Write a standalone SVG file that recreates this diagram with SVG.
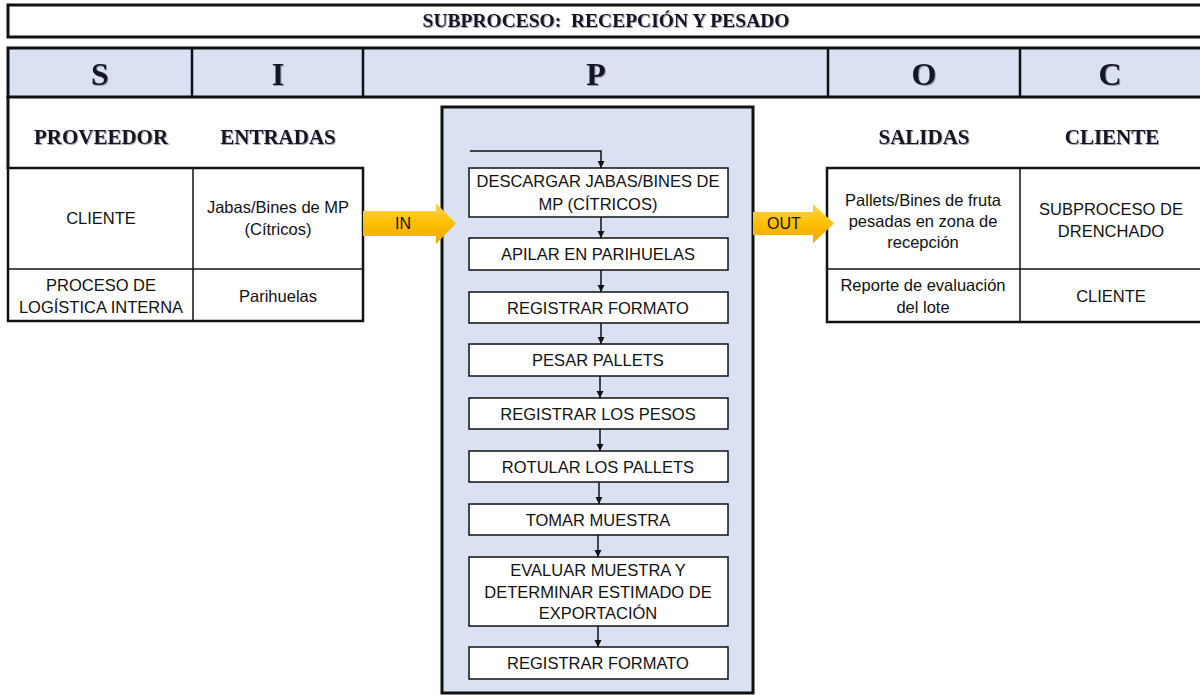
<svg xmlns="http://www.w3.org/2000/svg" width="1200" height="695" viewBox="0 0 1200 695">
  <defs>
    <style>
      .frame { fill: #ffffff; stroke: #111111; stroke-width: 3; }
      .band { fill: #D9E1F2; stroke: #111111; stroke-width: 3; }
      .cell { fill: #ffffff; stroke: #111111; stroke-width: 2.5; }
      .rule { stroke: #111111; stroke-width: 1.5; fill: none; }
      .thick { stroke: #111111; stroke-width: 2.5; fill: none; }
      .step { fill: #ffffff; stroke: #111111; stroke-width: 1.5; }
      .title { font-family: "Liberation Serif", "Times New Roman", serif; font-weight: bold; font-size: 19.5px; fill: #141420; text-anchor: middle; }
      .letter { font-family: "Liberation Serif", "Times New Roman", serif; font-weight: bold; font-size: 32px; fill: #141420; text-anchor: middle; }
      .head { font-family: "Liberation Serif", "Times New Roman", serif; font-weight: bold; font-size: 21px; fill: #141420; text-anchor: middle; }
      .txt { font-family: "Liberation Sans", Arial, sans-serif; font-size: 16.5px; fill: #111111; text-anchor: middle; }
      .tag { font-family: "Liberation Sans", Arial, sans-serif; font-size: 16px; fill: #111111; text-anchor: middle; }
      .flow { stroke: #111111; stroke-width: 1.5; fill: none; marker-end: url(#tip); }
      .fat { fill: url(#gold); stroke: none; }
    </style>
    <linearGradient id="gold" x1="0" y1="0" x2="0" y2="1">
      <stop offset="0" stop-color="#FFD457"/>
      <stop offset="0.5" stop-color="#FFC000"/>
      <stop offset="1" stop-color="#E9A800"/>
    </linearGradient>
    <filter id="shade" x="-10%" y="-20%" width="120%" height="140%">
      <feDropShadow dx="1" dy="1" stdDeviation="0.7" flood-color="#3a3a60" flood-opacity="0.45"/>
    </filter>
    <marker id="tip" markerUnits="userSpaceOnUse" markerWidth="8" markerHeight="8" refX="7" refY="4" orient="auto">
      <path d="M0,0.5 L7,4 L0,7.5 z" fill="#111111"/>
    </marker>
  </defs>

  <!-- title bar -->
  <g id="title">
    <rect class="frame" x="8" y="5" width="1200" height="32"/>
    <text class="title" x="606" y="27" filter="url(#shade)" xml:space="preserve">SUBPROCESO:  RECEPCIÓN Y PESADO</text>
  </g>

  <!-- SIPOC header band -->
  <g id="sipoc-header">
    <rect class="band" x="8" y="48" width="1200" height="49"/>
    <line class="thick" x1="192" y1="48" x2="192" y2="97"/>
    <line class="thick" x1="363" y1="48" x2="363" y2="97"/>
    <line class="thick" x1="828" y1="48" x2="828" y2="97"/>
    <line class="thick" x1="1020" y1="48" x2="1020" y2="97"/>
    <text class="letter" x="100" y="85" filter="url(#shade)">S</text>
    <text class="letter" x="278" y="85" filter="url(#shade)">I</text>
    <text class="letter" x="596" y="85" filter="url(#shade)">P</text>
    <text class="letter" x="924" y="85" filter="url(#shade)">O</text>
    <text class="letter" x="1110" y="85" filter="url(#shade)">C</text>
  </g>

  <!-- suppliers and inputs -->
  <g id="suppliers-inputs">
    <line x1="8" y1="96" x2="8" y2="169" stroke="#111111" stroke-width="3"/>
    <text class="head" x="101" y="144" filter="url(#shade)">PROVEEDOR</text>
    <text class="head" x="278" y="144" filter="url(#shade)">ENTRADAS</text>
    <rect class="cell" x="8" y="168" width="355" height="153"/>
    <line class="rule" x1="193" y1="168" x2="193" y2="321"/>
    <line class="rule" x1="8" y1="269" x2="363" y2="269"/>
    <text class="txt" x="101" y="224">CLIENTE</text>
    <text class="txt" x="278" y="213">Jabas/Bines de MP</text>
    <text class="txt" x="278" y="235">(Cítricos)</text>
    <text class="txt" x="101" y="291">PROCESO DE</text>
    <text class="txt" x="101" y="313">LOGÍSTICA INTERNA</text>
    <text class="txt" x="278" y="302">Parihuelas</text>
  </g>

  <!-- outputs and customers -->
  <g id="outputs-customers">
    <text class="head" x="924" y="144" filter="url(#shade)">SALIDAS</text>
    <text class="head" x="1112" y="144" filter="url(#shade)">CLIENTE</text>
    <rect class="cell" x="827" y="168" width="385" height="154"/>
    <line class="rule" x1="1020" y1="168" x2="1020" y2="322"/>
    <line class="rule" x1="827" y1="269" x2="1200" y2="269"/>
    <text class="txt" x="923" y="206">Pallets/Bines de fruta</text>
    <text class="txt" x="923" y="227">pesadas en zona de</text>
    <text class="txt" x="923" y="248">recepción</text>
    <text class="txt" x="1111" y="215">SUBPROCESO DE</text>
    <text class="txt" x="1111" y="237">DRENCHADO</text>
    <text class="txt" x="923" y="291">Reporte de evaluación</text>
    <text class="txt" x="923" y="313">del lote</text>
    <text class="txt" x="1111" y="302">CLIENTE</text>
  </g>

  <!-- process panel -->
  <g id="process-panel">
    <rect class="band" x="442" y="107" width="311" height="586"/>
  </g>

  <g id="step-descargar">
    <rect class="step" x="469" y="168" width="259" height="49"/>
    <text class="txt" x="598" y="187">DESCARGAR JABAS/BINES DE</text>
    <text class="txt" x="598" y="210">MP (CÍTRICOS)</text>
  </g>
  <g id="step-apilar">
    <rect class="step" x="469" y="238" width="259" height="32"/>
    <text class="txt" x="598" y="260">APILAR EN PARIHUELAS</text>
  </g>
  <g id="step-registrar-1">
    <rect class="step" x="469" y="292" width="259" height="31"/>
    <text class="txt" x="598" y="313.5">REGISTRAR FORMATO</text>
  </g>
  <g id="step-pesar">
    <rect class="step" x="469" y="344" width="259" height="32"/>
    <text class="txt" x="598" y="366">PESAR PALLETS</text>
  </g>
  <g id="step-registrar-pesos">
    <rect class="step" x="469" y="398" width="259" height="31"/>
    <text class="txt" x="598" y="419.5">REGISTRAR LOS PESOS</text>
  </g>
  <g id="step-rotular">
    <rect class="step" x="469" y="451" width="259" height="31"/>
    <text class="txt" x="598" y="472.5">ROTULAR LOS PALLETS</text>
  </g>
  <g id="step-tomar">
    <rect class="step" x="469" y="504" width="259" height="31"/>
    <text class="txt" x="598" y="525.5">TOMAR MUESTRA</text>
  </g>
  <g id="step-evaluar">
    <rect class="step" x="469" y="557" width="259" height="69"/>
    <text class="txt" x="598" y="576">EVALUAR MUESTRA Y</text>
    <text class="txt" x="598" y="597.5">DETERMINAR ESTIMADO DE</text>
    <text class="txt" x="598" y="619">EXPORTACIÓN</text>
  </g>
  <g id="step-registrar-2">
    <rect class="step" x="469" y="647" width="259" height="32"/>
    <text class="txt" x="598" y="669">REGISTRAR FORMATO</text>
  </g>

  <!-- block arrows into and out of the process -->
  <g id="arrow-in">
    <polygon class="fat" points="363,211 436,211 436,203 456,223.5 436,244 436,236 363,236"/>
    <text class="tag" x="403" y="229">IN</text>
  </g>
  <g id="arrow-out">
    <polygon class="fat" points="753,212 813,212 813,204 834,223.5 813,243 813,235 753,235"/>
    <text class="tag" x="784" y="229">OUT</text>
  </g>

  <!-- step connectors -->
  <g id="connectors">
    <path class="flow" d="M470,151 H601 V168"/>
    <line class="flow" x1="601" y1="217" x2="601" y2="238"/>
    <line class="flow" x1="601" y1="270" x2="601" y2="292"/>
    <line class="flow" x1="601" y1="323" x2="601" y2="344"/>
    <line class="flow" x1="600" y1="376" x2="600" y2="398"/>
    <line class="flow" x1="600" y1="429" x2="600" y2="451"/>
    <line class="flow" x1="599" y1="482" x2="599" y2="504"/>
    <line class="flow" x1="598" y1="535" x2="598" y2="557"/>
    <line class="flow" x1="598" y1="626" x2="598" y2="647"/>
  </g>
</svg>
